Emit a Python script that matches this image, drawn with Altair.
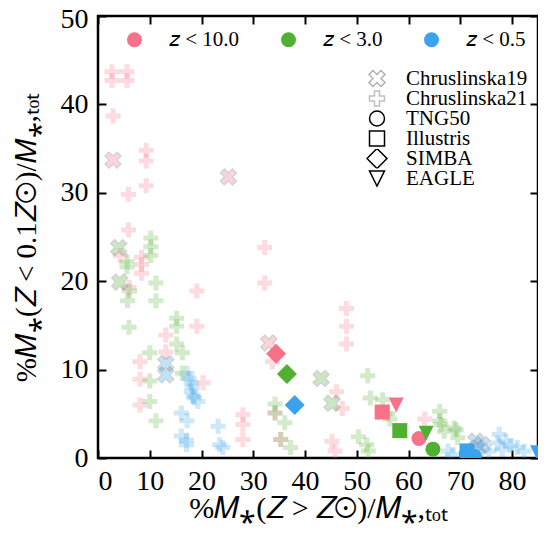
import altair as alt
import pandas as pd

# ---------------- data ----------------
z_labels = ["𝑧 < 10.0", "𝑧 < 3.0", "𝑧 < 0.5"]
z_colors = ["#f77189", "#50b131", "#3ba3ec"]
sources = ["Chruslinska19", "Chruslinska21", "TNG50", "Illustris", "SIMBA", "EAGLE"]

# Chruslinska21 (plus markers)
c21_z10_x = [2.7, 2.7, 5.6, 5.6, 2.9, 9.3, 9.3, 9.3, 5.9, 5.9, 4.3, 8.4, 8.4, 8.4, 6.0, 19.1, 19.1,
             13.1, 13.1, 8.1, 8.1, 20.3, 8.1, 28.0, 28.0, 28.0, 32.2, 32.2, 48.0, 48.0, 48.0, 33.7,
             46.1, 47.2, 45.2, 45.8, 63.1, 34.2, 35.3]
c21_z10_y = [43.7, 42.7, 43.7, 42.7, 38.7, 34.8, 33.6, 30.8, 29.8, 25.8, 22.9, 22.7, 21.9, 20.9, 19.3, 18.9, 14.9,
             13.9, 12.0, 10.9, 8.9, 8.5, 6.0, 4.9, 3.8, 2.1, 23.8, 19.8, 16.9, 14.9, 12.9, 10.9,
             7.5, 5.6, 1.9, 0.8, 4.4, 5.1, 2.1]
c21_z3_x = [10.2, 10.2, 10.2, 5.6, 5.6, 6.1, 5.7, 11.2, 11.2, 15.2, 15.2, 6.0, 15.2, 16.3, 10.0, 16.3,
            10.0, 10.0, 11.2, 34.2, 34.2, 36.1, 35.3, 37.2, 50.3, 51.9, 52.2, 52.1, 52.6, 55.0, 56.0,
            56.4, 66.0, 66.0, 66.3, 66.9, 68.8, 69.2, 69.5]
c21_z3_y = [24.9, 23.9, 22.9, 22.2, 21.6, 18.9, 17.8, 19.8, 17.8, 15.8, 14.9, 14.8, 12.9, 11.9, 11.9, 9.6,
            8.7, 6.4, 4.2, 6.1, 5.1, 4.0, 2.1, 1.2, 2.4, 1.5, 0.8, 9.3, 6.8, 6.6, 5.0,
            4.4, 5.3, 4.2, 3.8, 3.0, 3.4, 3.2, 2.3]
c21_z05_x = [17.2, 17.6, 18.0, 18.2, 18.0, 18.4, 18.6, 19.3, 16.1, 17.2, 16.1, 17.1, 17.1, 23.2, 23.5, 24.1,
             67.6, 68.5, 77.5, 77.2, 78.8, 79.7, 81.0, 82.3, 78.1, 75.5]
c21_z05_y = [9.6, 9.0, 8.5, 8.0, 7.5, 7.0, 6.8, 6.4, 5.1, 4.2, 2.5, 2.0, 1.5, 3.6, 1.5, 1.2,
             0.8, 0.4, 2.7, 1.7, 1.9, 1.4, 1.2, 0.8, 1.0, 0.8]

# Chruslinska19 (x markers)
c19_z10_x = [2.9, 25.2, 33.0]
c19_z10_y = [33.7, 31.8, 13.0]
c19_z3_x = [4.0, 4.2, 43.1, 45.2]
c19_z3_y = [23.8, 19.9, 9.0, 6.2]
c19_z05_x = [13.1, 13.1, 73.0, 74.2, 73.3]
c19_z05_y = [10.7, 9.4, 1.9, 1.5, 1.1]

# simulations: order z<10, z<3, z<0.5
tng50_x = [62.0, 64.7, 72.7]
tng50_y = [2.2, 1.0, 0.2]
illustris_x = [54.9, 58.3, 71.3]
illustris_y = [5.2, 3.1, 0.8]
simba_x = [34.4, 36.5, 38.0]
simba_y = [11.8, 9.5, 6.0]
eagle_x = [57.6, 63.4, 84.9]
eagle_y = [6.0, 2.8, 0.6]

x_ticks = [0, 10, 20, 30, 40, 50, 60, 70, 80]
y_ticks = [0, 10, 20, 30, 40, 50]


def frame(xs, ys, zlab, src):
    return pd.DataFrame({"x": xs, "y": ys, "zbin": zlab, "source": src})


c21 = pd.concat([
    frame(c21_z10_x, c21_z10_y, z_labels[0], "Chruslinska21"),
    frame(c21_z3_x, c21_z3_y, z_labels[1], "Chruslinska21"),
    frame(c21_z05_x, c21_z05_y, z_labels[2], "Chruslinska21"),
], ignore_index=True)
c19 = pd.concat([
    frame(c19_z10_x, c19_z10_y, z_labels[0], "Chruslinska19"),
    frame(c19_z3_x, c19_z3_y, z_labels[1], "Chruslinska19"),
    frame(c19_z05_x, c19_z05_y, z_labels[2], "Chruslinska19"),
], ignore_index=True)
sim_rows = []
for i in range(3):
    sim_rows.append(frame([tng50_x[i]], [tng50_y[i]], z_labels[i], "TNG50"))
    sim_rows.append(frame([illustris_x[i]], [illustris_y[i]], z_labels[i], "Illustris"))
    sim_rows.append(frame([simba_x[i]], [simba_y[i]], z_labels[i], "SIMBA"))
    sim_rows.append(frame([eagle_x[i]], [eagle_y[i]], z_labels[i], "EAGLE"))
sims = pd.concat(sim_rows, ignore_index=True)

# ---------------- style ----------------
W, H = 440, 442
FONT = "Liberation Serif"
X_PATH = "M0.5,-1L1,-0.5L0.5,0L1,0.5L0.5,1L0,0.5L-0.5,1L-1,0.5L-0.5,0L-1,-0.5L-0.5,-1L0,-0.5Z"
P_PATH = ("M-0.333,-1L0.333,-1L0.333,-0.333L1,-0.333L1,0.333L0.333,0.333L0.333,1L-0.333,1"
          "L-0.333,0.333L-1,0.333L-1,-0.333L-0.333,-0.333Z")
V_PATH = "M-1,-1L1,-1L0,1Z"
shape_range = [X_PATH, P_PATH, "circle", "square", "diamond", V_PATH]
size_range = [256, 225, 225, 225, 400, 225]
opacity_range = [0.3, 0.25, 1, 1, 1, 1]

shape_legend = alt.Legend(title=None, orient="none", legendX=268, legendY=53,
                          symbolStrokeColor="black", symbolFillColor="transparent",
                          symbolStrokeWidth=1.5, labelFontSize=21, labelOffset=18,
                          rowPadding=-3, clipHeight=19, labelFont=FONT)
color_legend = alt.Legend(title=None, orient="none", legendX=26, legendY=13,
                          direction="horizontal", symbolType="circle", symbolSize=225,
                          symbolStrokeWidth=0, symbolOpacity=1, labelFontSize=21,
                          labelOffset=24, columnPadding=38, labelFont=FONT)

xscale = alt.Scale(domain=[0, 85], nice=False, zero=False)
yscale = alt.Scale(domain=[0, 50], nice=False, zero=False)

common = dict(
    color=alt.Color("zbin:N", scale=alt.Scale(domain=z_labels, range=z_colors), legend=color_legend),
    shape=alt.Shape("source:N", scale=alt.Scale(domain=sources, range=shape_range), legend=shape_legend),
    size=alt.Size("source:N", scale=alt.Scale(type="ordinal", domain=sources, range=size_range),
                  legend=shape_legend),
    opacity=alt.Opacity("source:N", scale=alt.Scale(type="ordinal", domain=sources, range=opacity_range),
                        legend=shape_legend),
)

label_x_axis = alt.Axis(values=x_ticks, ticks=False, domain=False, grid=False, labelFontSize=28,
                        labelFont=FONT, labelPadding=9, labelColor="black",
                        title="%𝑀⁎(𝑍 > 𝑍⊙)/𝑀⁎,ₜₒₜ", titleFont=FONT, titleFontSize=30,
                        titleFontWeight="normal", titlePadding=-2, titleColor="black")
label_y_axis = alt.Axis(values=y_ticks, ticks=False, domain=False, grid=False, labelFontSize=28,
                        labelFont=FONT, labelPadding=10, labelColor="black",
                        labelOffset={"condition": {"test": "datum.value == 50", "value": 3}, "value": 0},
                        title="%𝑀⁎(𝑍 < 0.1𝑍⊙)/𝑀⁎,ₜₒₜ", titleFont=FONT, titleFontSize=29,
                        titleFontWeight="normal", titlePadding=19, titleColor="black")


def tick_axis(vals, orient, offset):
    return alt.Axis(values=vals, orient=orient, offset=offset, labels=False, domain=False,
                    grid=False, ticks=True, tickSize=8, tickWidth=2, tickColor="black", title=None)


layer_c21 = alt.Chart(c21).mark_point(filled=True, clip=True, strokeWidth=0).encode(
    x=alt.X("x:Q", scale=xscale, axis=label_x_axis),
    y=alt.Y("y:Q", scale=yscale, axis=label_y_axis),
    **common,
)
layer_c19 = alt.Chart(c19).mark_point(filled=True, clip=True, stroke="#666666", strokeWidth=1.3).encode(
    x=alt.X("x:Q", scale=xscale, axis=tick_axis(x_ticks, "top", -H)),
    y=alt.Y("y:Q", scale=yscale, axis=tick_axis(y_ticks, "right", -W)),
    **common,
)
layer_sims = alt.Chart(sims).mark_point(filled=True, clip=True, strokeWidth=0).encode(
    x=alt.X("x:Q", scale=xscale, axis=tick_axis(x_ticks, "bottom", -H)),
    y=alt.Y("y:Q", scale=yscale, axis=tick_axis(y_ticks, "left", -W)),
    **common,
)

chart = alt.layer(layer_c21, layer_c19, layer_sims).resolve_axis(
    x="independent", y="independent"
).properties(
    width=W, height=H,
    autosize=alt.AutoSizeParams(type="none"),
    padding={"left": 90, "top": 8, "right": 0, "bottom": 73},
).configure_view(
    stroke="black", strokeWidth=2.5
).configure_legend(
    labelColor="black", symbolOpacity=1
)

chart.save("out.html", embed_options={"renderer": "svg", "actions": False})
